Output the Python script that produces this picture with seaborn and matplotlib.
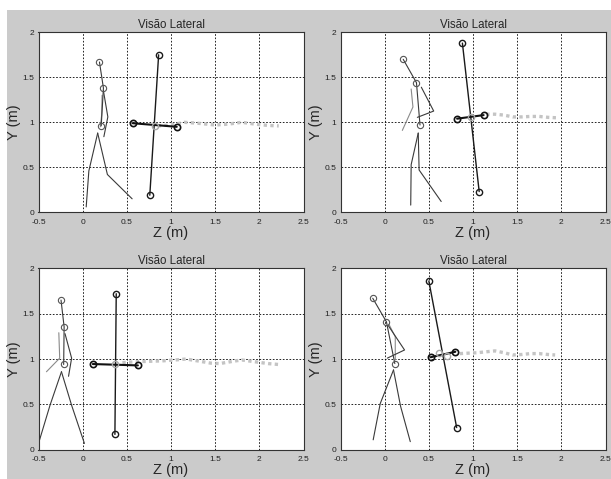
import matplotlib
matplotlib.use('Agg')
import matplotlib.pyplot as plt
import seaborn as sns

# ---- Dados (Z, Y em metros) ----
eixo_z_ticks = [-0.5, 0, 0.5, 1, 1.5, 2, 2.5]
eixo_y_ticks = [0, 0.5, 1, 1.5, 2]
z_labels = ['-0.5', '0', '0.5', '1', '1.5', '2', '2.5']
y_labels = ['0', '0.5', '1', '1.5', '2']

# Quadro 1
q1_tronco_z = [0.19, 0.235, 0.21]
q1_tronco_y = [1.67, 1.38, 0.96]
q1_braco_z = [0.235, 0.285, 0.24]
q1_braco_y = [1.35, 1.06, 0.84]
q1_braco2_z = [0.22, 0.215, 0.20]
q1_braco2_y = [1.30, 1.08, 0.95]
q1_perna_a_z = [0.17, 0.07, 0.04]
q1_perna_a_y = [0.88, 0.46, 0.06]
q1_perna_b_z = [0.17, 0.28, 0.56]
q1_perna_b_y = [0.88, 0.42, 0.15]
q1_vert_z = [0.86, 0.76]
q1_vert_y = [1.75, 0.19]
q1_horiz_z = [0.565, 1.065]
q1_horiz_y = [0.99, 0.95]
q1_centro_z = [0.82]
q1_centro_y = [0.96]
q1_rastro_z = [0.85, 1.0, 1.15, 1.3, 1.5, 1.65, 1.8, 1.95, 2.1, 2.22]
q1_rastro_y = [0.96, 0.97, 1.0, 0.99, 0.97, 0.98, 1.0, 0.98, 0.965, 0.96]

# Quadro 2
q2_tronco_z = [0.21, 0.36, 0.40]
q2_tronco_y = [1.70, 1.44, 0.97]
q2_braco_z = [0.415, 0.555, 0.37]
q2_braco_y = [1.39, 1.125, 1.055]
q2_braco2_z = [0.30, 0.32, 0.20]
q2_braco2_y = [1.37, 1.17, 0.91]
q2_perna_a_z = [0.38, 0.30, 0.295]
q2_perna_a_y = [0.88, 0.53, 0.08]
q2_perna_b_z = [0.38, 0.39, 0.64]
q2_perna_b_y = [0.88, 0.47, 0.12]
q2_vert_z = [0.88, 1.07]
q2_vert_y = [1.88, 0.23]
q2_horiz_z = [0.82, 1.12]
q2_horiz_y = [1.04, 1.08]
q2_centro_z = [0.98]
q2_centro_y = [1.06]
q2_rastro_z = [1.15, 1.25, 1.35, 1.45, 1.55, 1.65, 1.75, 1.85, 1.95]
q2_rastro_y = [1.09, 1.09, 1.08, 1.06, 1.06, 1.065, 1.065, 1.055, 1.05]

# Quadro 3
q3_tronco_z = [-0.245, -0.21, -0.215]
q3_tronco_y = [1.65, 1.355, 0.94]
q3_braco_z = [-0.20, -0.125, -0.16]
q3_braco_y = [1.28, 1.01, 0.81]
q3_braco2_z = [-0.27, -0.26, -0.41]
q3_braco2_y = [1.29, 1.01, 0.86]
q3_perna_a_z = [-0.24, -0.37, -0.50]
q3_perna_a_y = [0.86, 0.49, 0.07]
q3_perna_b_z = [-0.24, -0.125, 0.02]
q3_perna_b_y = [0.86, 0.49, 0.07]
q3_vert_z = [0.38, 0.365]
q3_vert_y = [1.72, 0.17]
q3_horiz_z = [0.115, 0.625]
q3_horiz_y = [0.945, 0.93]
q3_centro_z = [0.37]
q3_centro_y = [0.94]
q3_rastro_z = [0.45, 0.6, 0.75, 0.9, 1.05, 1.17, 1.3, 1.45, 1.55, 1.7, 1.8, 1.95, 2.1, 2.22]
q3_rastro_y = [0.96, 0.97, 0.975, 0.98, 0.99, 1.0, 0.98, 0.955, 0.95, 0.975, 0.99, 0.97, 0.95, 0.94]

# Quadro 4
q4_tronco_z = [-0.135, 0.02, 0.115]
q4_tronco_y = [1.67, 1.41, 0.95]
q4_braco_z = [0.04, 0.225, 0.03]
q4_braco_y = [1.37, 1.10, 1.01]
q4_braco2_z = [0.05, 0.12, 0.12]
q4_braco2_y = [1.38, 1.245, 0.99]
q4_perna_a_z = [0.10, -0.05, -0.13]
q4_perna_a_y = [0.88, 0.51, 0.11]
q4_perna_b_z = [0.10, 0.18, 0.29]
q4_perna_b_y = [0.88, 0.48, 0.09]
q4_vert_z = [0.50, 0.815]
q4_vert_y = [1.86, 0.245]
q4_horiz_z = [0.52, 0.80]
q4_horiz_y = [1.02, 1.08]
q4_centro_z = [0.61, 0.70]
q4_centro_y = [1.07, 1.03]
q4_rastro_z = [0.85, 0.95, 1.05, 1.15, 1.25, 1.35, 1.45, 1.55, 1.65, 1.75, 1.85, 1.93]
q4_rastro_y = [1.06, 1.065, 1.07, 1.08, 1.09, 1.07, 1.045, 1.05, 1.06, 1.06, 1.05, 1.045]

quadros = [
    (q1_tronco_z, q1_tronco_y, q1_braco_z, q1_braco_y, q1_braco2_z, q1_braco2_y,
     q1_perna_a_z, q1_perna_a_y, q1_perna_b_z, q1_perna_b_y, q1_vert_z, q1_vert_y,
     q1_horiz_z, q1_horiz_y, q1_centro_z, q1_centro_y, q1_rastro_z, q1_rastro_y),
    (q2_tronco_z, q2_tronco_y, q2_braco_z, q2_braco_y, q2_braco2_z, q2_braco2_y,
     q2_perna_a_z, q2_perna_a_y, q2_perna_b_z, q2_perna_b_y, q2_vert_z, q2_vert_y,
     q2_horiz_z, q2_horiz_y, q2_centro_z, q2_centro_y, q2_rastro_z, q2_rastro_y),
    (q3_tronco_z, q3_tronco_y, q3_braco_z, q3_braco_y, q3_braco2_z, q3_braco2_y,
     q3_perna_a_z, q3_perna_a_y, q3_perna_b_z, q3_perna_b_y, q3_vert_z, q3_vert_y,
     q3_horiz_z, q3_horiz_y, q3_centro_z, q3_centro_y, q3_rastro_z, q3_rastro_y),
    (q4_tronco_z, q4_tronco_y, q4_braco_z, q4_braco_y, q4_braco2_z, q4_braco2_y,
     q4_perna_a_z, q4_perna_a_y, q4_perna_b_z, q4_perna_b_y, q4_vert_z, q4_vert_y,
     q4_horiz_z, q4_horiz_y, q4_centro_z, q4_centro_y, q4_rastro_z, q4_rastro_y),
]

# posicao dos eixos em pixels: esquerda, topo, direita, base
W, H = 611, 479
caixas = [(38.5, 32.3, 303.5, 212.3), (340.5, 32.3, 605.5, 212.3),
          (38.5, 268.3, 303.5, 449.8), (340.5, 268.3, 605.5, 449.8)]

sns.set_style('white')
plt.rcParams['font.family'] = ['Liberation Sans', 'DejaVu Sans']

fig = plt.figure(figsize=(W / 100, H / 100), dpi=100, facecolor='white')
fig.patches.append(plt.Rectangle((7 / W, 0), 1, 1 - 10 / H, transform=fig.transFigure,
                                 facecolor='#cbcbcb', edgecolor='none', zorder=-10))

escuro = '#3a3a3a'
cinza = '#8a8a8a'
claro = '#c4c4c4'

for (l, t, r, b), q in zip(caixas, quadros):
    (tz, ty, bz, by, b2z, b2y, paz, pay, pbz, pby, vz, vy, hz, hy, cz, cy, rz, ry) = q
    ax = fig.add_axes([l / W, 1 - b / H, (r - l) / W, (b - t) / H])
    ax.set_facecolor('white')

    # rastro do centro
    sns.lineplot(x=rz, y=ry, sort=False, estimator=None, ax=ax, color=claro,
                 lw=2.4, linestyle=(0, (1.0, 1.0)))
    # boneco
    sns.lineplot(x=b2z, y=b2y, sort=False, estimator=None, ax=ax, color=cinza, lw=0.8)
    sns.lineplot(x=paz, y=pay, sort=False, estimator=None, ax=ax, color=escuro, lw=0.8)
    sns.lineplot(x=pbz, y=pby, sort=False, estimator=None, ax=ax, color=escuro, lw=0.8)
    sns.lineplot(x=bz, y=by, sort=False, estimator=None, ax=ax, color=escuro, lw=0.8)
    sns.lineplot(x=tz, y=ty, sort=False, estimator=None, ax=ax, color=escuro, lw=0.8,
                 marker='o', markersize=4.5, markerfacecolor='none',
                 markeredgecolor='#555555', markeredgewidth=0.8)
    # cruz
    sns.lineplot(x=vz, y=vy, sort=False, estimator=None, ax=ax, color='#1a1a1a', lw=1.0,
                 marker='o', markersize=4.5, markerfacecolor='none',
                 markeredgecolor='#1a1a1a', markeredgewidth=1.0)
    sns.lineplot(x=hz, y=hy, sort=False, estimator=None, ax=ax, color='#111111', lw=1.5,
                 marker='o', markersize=4.5, markerfacecolor='none',
                 markeredgecolor='#111111', markeredgewidth=1.2)
    ax.plot(cz, cy, 'o', ms=4.5, mfc='none', mec='#a8a8a8', mew=1.0)

    ax.set_xlim(-0.5, 2.5)
    ax.set_ylim(0, 2)
    ax.set_xticks(eixo_z_ticks, z_labels)
    ax.set_yticks(eixo_y_ticks, y_labels)
    ax.tick_params(labelsize=6, length=0, colors='#222222')
    ax.tick_params(axis='x', pad=4.5)
    ax.tick_params(axis='y', pad=3)
    ax.grid(True, color='black', linestyle=(0, (2, 2)), lw=0.6)
    for s in ax.spines.values():
        s.set_color('#333333')
        s.set_linewidth(0.8)
    ax.set_xlabel('Z (m)', fontsize=10.5, labelpad=0)
    ax.set_ylabel('Y (m)', fontsize=10.5, labelpad=1)
    ax.set_title('Visão Lateral', fontsize=8.3, pad=3)

fig.savefig('out.png', dpi=100, facecolor=fig.get_facecolor())
